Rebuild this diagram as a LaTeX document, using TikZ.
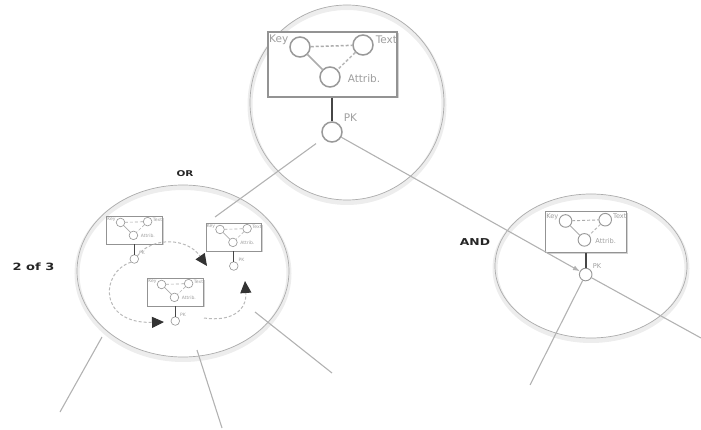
\documentclass[tikz,border=0pt]{standalone}
\usepackage{fontspec}
\setmainfont{DejaVu Sans}
\newfontfamily\widebold[FakeStretch=1.3]{DejaVu Sans Bold}
\usetikzlibrary{shapes.geometric,arrows.meta,shadows}

\tikzset{
  ebox/.style={draw=gray!85, fill=white, inner sep=0pt,
    drop shadow={shadow xshift=1.5pt,shadow yshift=-1.5pt,opacity=0.35}},
  ecirc/.style={circle, draw=gray!80, fill=white, minimum size=20pt, inner sep=0pt},
  elbl/.style={inner sep=0pt, text=gray!75, font=\fontsize{10.5}{11}\selectfont},
  grp/.style={ellipse, draw=gray!65, line width=0.7pt, inner sep=0pt},
  wire/.style={draw=gray!60, line width=1.1pt},
  loopar/.style={draw=gray!55, densely dashed, line width=1pt,
    -{Triangle[length=12pt,width=11pt,color=gray!40!black,fill=gray!40!black]}},
  logic/.style={inner sep=0pt, text=black!85},
}

\newcommand\entity[4]{%
  \begin{scope}[shift={(#2,#3)},scale=#4,transform shape,line width=#4*1.5pt]
    \node[ebox,minimum width=129pt,minimum height=65pt] (#1) at (0,0) {};
    \node[ecirc] (#1k) at (-32.5,-17.5) {};
    \node[ecirc] (#1t) at (30.5,-19.5) {};
    \node[ecirc] (#1a) at (-2.5,12.5) {};
    \node[ecirc] (#1pk) at (-0.5,67.5) {};
    \draw[gray!65,densely dashed] (#1k) -- (#1t);
    \draw[gray!65] (#1k) -- (#1a);
    \draw[gray!55,densely dashed] (#1t) -- (#1a);
    \draw[gray!55!black,line width=#4*2.8pt] (#1pk|-#1.south) -- (#1pk);
    \node[elbl,anchor=east] (#1lk) at (-43.5,-24.5) {Key};
    \node[elbl,anchor=west] (#1lt) at (42.5,-24.5) {Text};
    \node[elbl,anchor=west] (#1la) at (14.5,14.5) {Attrib.};
    \node[elbl,anchor=west] (#1lp) at (10.5,53.5) {PK};
  \end{scope}}

\begin{document}
\begin{tikzpicture}[x=1pt,y=-1pt]
\useasboundingbox (0,0) rectangle (701,430);

% group ellipses (soft halo + outline)
\foreach \cx/\cy/\w/\h in {347/105/194/195, 183/273.5/212/172, 591/268.5/192/144}{
  \draw[black!7,line width=5pt] (\cx,\cy) ellipse ({\w/2} and {\h/2});
}
\node[grp,minimum width=194pt,minimum height=195pt] (Tell) at (347,102.5) {};
\node[grp,minimum width=212pt,minimum height=172pt] (Lell) at (183,271) {};
\node[grp,minimum width=192pt,minimum height=144pt] (Rell) at (591,266) {};

% entities
\entity{T}{332.5}{64.5}{1}
\entity{R}{586}{232}{0.63}
\entity{A}{134.5}{230}{0.43}
\entity{B}{234}{237}{0.43}
\entity{C}{175.5}{292}{0.43}

% free ends
\coordinate (bend) at (215,217);
\coordinate (rout) at (701,338);
\coordinate (rdown) at (530,385);
\coordinate (l1a) at (102,337); \coordinate (l1b) at (60,412);
\coordinate (l2a) at (197,350); \coordinate (l2b) at (222,428);
\coordinate (l3a) at (255,312); \coordinate (l3b) at (332,373);
\coordinate (ab) at (207,266);
\coordinate (ac) at (164,322);
\coordinate (cs) at (204,318);
\coordinate (cb) at (245,281);

% connectors
\draw[wire,shorten <=9pt] (Tpk) -- (bend);
\draw[wire,-{Latex[length=7pt,width=5pt]},draw=gray!60] (Tpk) -- (Rpk);
\draw[wire] (Rpk) -- (rout);
\draw[wire] (Rpk) -- (rdown);
\draw[wire] (l1a) -- (l1b);
\draw[wire] (l2a) -- (l2b);
\draw[wire] (l3a) -- (l3b);

% OR loop arrows
\draw[loopar] (Apk.north east) .. controls (150,238) and (186,236) .. (ab);
\draw[loopar] (Apk.south west) .. controls (100,272) and (98,324) .. (ac);
\draw[loopar] (cs) .. controls (232,322) and (247,310) .. (cb);

% logic labels
\node[logic,font=\widebold\fontsize{8}{9}\selectfont] (or) at (185,174) {OR};
\node[logic,font=\widebold\fontsize{9.5}{10}\selectfont] (and) at (475,242.5) {AND};
\node[logic,font=\widebold\fontsize{10}{11}\selectfont] (twoof) at (33.5,266.5) {2 of 3};
\end{tikzpicture}
\end{document}
